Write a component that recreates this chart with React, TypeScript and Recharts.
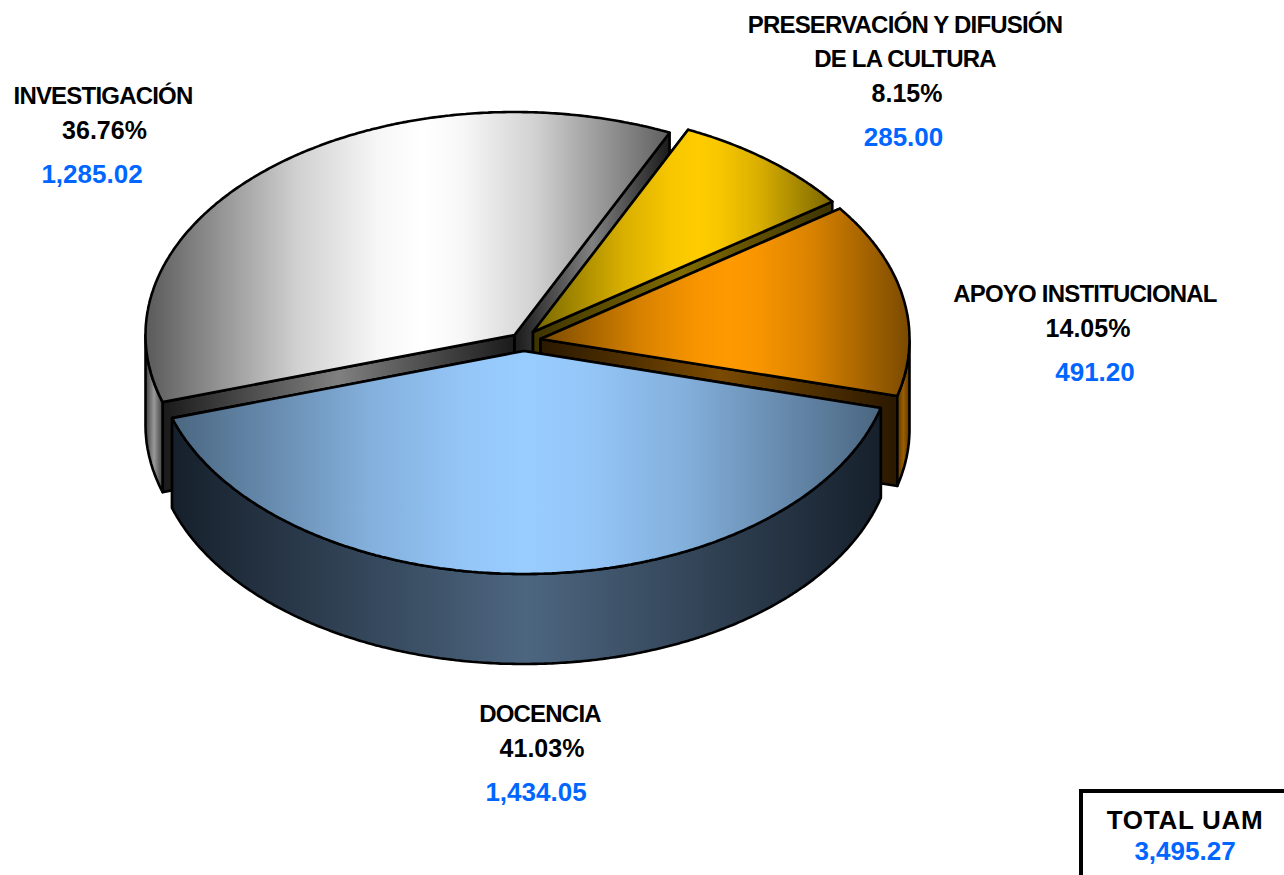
import React from "react";
import { PieChart, Pie } from "recharts";

const categories = ["INVESTIGACIÓN", "PRESERVACIÓN Y DIFUSIÓN|DE LA CULTURA", "APOYO INSTITUCIONAL", "DOCENCIA"];
const amounts = [1285.02, 285.0, 491.2, 1434.05];
const percents = ["36.76%", "8.15%", "14.05%", "41.03%"];
const totalLabel = "TOTAL UAM";
const totalAmount = 3495.27;

// styles
const explode = [[-12.5, -5], [6, -8], [13.5, -1], [-3, 11]];
const labelAnchors = [[103, 104], [905, 33], [1085, 302], [540, 722]];
const percentShift = [1.5, 2, 3, 2];
const amountShift = [-11, -1.5, 10, -4];
const topColors = [[[90, 90, 90], [255, 255, 255], [95, 95, 95], 0.53], [[118, 102, 0], [255, 204, 0], [122, 102, 0], 0.55], [[122, 74, 0], [255, 153, 0], [122, 74, 0], 0.51], [[74, 102, 128], [153, 204, 255], [74, 102, 128], 0.5]];
const sideColors = [["#404040", "#999999"], ["#4d4000", "#806b00"], ["#5a3600", "#9c5e00"], ["#16202c", "#4d6680"]];
const wallColors = [["#1a1a1a", "#808080"], ["#3d3300", "#806b00"], ["#2a1800", "#7a4a00"], ["#16202c", "#4d6680"]];

const CX = 527;
const CY = 340;
const RX = 369;
const RY = 223;
const DEPTH = 90;
const BLUE = "#0066ff";
const FONT = "'Liberation Sans', Arial, sans-serif";

const data = categories.map((name, i) => ({ name, value: amounts[i], percent: percents[i] }));
const rad = (a: number) => (a * Math.PI) / 180;
const mix = (a: number[], b: number[], t: number) =>
  `rgb(${a.map((v, i) => Math.round(v + (b[i] - v) * t)).join(",")})`;

function Grad({ id, x1, x2, stops }: { id: string; x1: number; x2: number; stops: [number, string][] }) {
  return (
    <linearGradient id={id} gradientUnits="userSpaceOnUse" x1={x1} x2={x2} y1={0} y2={0}>
      {stops.map(([o, c], i) => (
        <stop key={i} offset={o} stopColor={c} />
      ))}
    </linearGradient>
  );
}

function Slice(props: any) {
  const { cx, cy, startAngle, endAngle, outerRadius, index } = props;
  const ratio = RY / outerRadius;
  const ox = cx + explode[index][0];
  const oy = cy + explode[index][1];
  const pt = (a: number): [number, number] => [ox + outerRadius * Math.cos(rad(a)), oy - outerRadius * ratio * Math.sin(rad(a))];
  const lo = Math.min(startAngle, endAngle);
  const hi = Math.max(startAngle, endAngle);
  const arc: [number, number][] = [];
  const n = Math.ceil((hi - lo) * 2);
  for (let i = 0; i <= n; i++) arc.push(pt(hi - ((hi - lo) * i) / n));
  const first = arc[0];
  const last = arc[arc.length - 1];
  const fmt = (p: [number, number], d = 0) => `${p[0].toFixed(1)},${(p[1] + d).toFixed(1)}`;
  const topPath = `M${ox},${oy}L` + arc.map((p) => fmt(p)).join("L") + "Z";
  const low = arc.filter((p) => p[1] >= oy);
  const band = low.length
    ? "M" + low.map((p) => fmt(p)).join("L") + "L" + [...low].reverse().map((p) => fmt(p, DEPTH)).join("L") + "Z"
    : "";
  const wall = (p: [number, number]) => `M${ox},${oy}L${fmt(p)}L${fmt(p, DEPTH)}L${ox},${oy + DEPTH}Z`;
  const lowXs = (low.length ? low : arc).map((p) => p[0]);
  const xs = arc.map((p) => p[0]).concat(ox);
  const tc = topColors[index] as any[];
  const sc = sideColors[index];
  const wc = wallColors[index];
  const c0 = tc[3] as number;
  const stroke = { stroke: "#000", strokeWidth: 2.6, strokeLinejoin: "round" as const };
  const wallGrad = (id: string, p: [number, number]) => (
    <Grad id={id} x1={Math.min(ox, p[0])} x2={Math.max(ox, p[0])} stops={[[0, wc[0]], [0.5, wc[1]], [1, wc[0]]]} />
  );
  const topStops: [number, string][] = [
    [0, mix(tc[0], tc[1], 0)],
    [c0 * 0.55, mix(tc[0], tc[1], 0.72)],
    [c0 * 0.84, mix(tc[0], tc[1], 0.95)],
    [c0, mix(tc[0], tc[1], 1)],
    [c0 + (1 - c0) * 0.16, mix(tc[2], tc[1], 0.95)],
    [c0 + (1 - c0) * 0.45, mix(tc[2], tc[1], 0.72)],
    [1, mix(tc[2], tc[1], 0)],
  ];
  return (
    <g>
      <defs>
        <Grad id={`top${index}`} x1={Math.min(...xs)} x2={Math.max(...xs)} stops={topStops} />
        <Grad id={`side${index}`} x1={Math.min(...lowXs)} x2={Math.max(...lowXs)} stops={[[0, sc[0]], [0.5, sc[1]], [1, sc[0]]]} />
        {wallGrad(`wa${index}`, first)}
        {wallGrad(`wb${index}`, last)}
      </defs>
      <path d={wall(first)} fill={`url(#wa${index})`} {...stroke} />
      <path d={wall(last)} fill={`url(#wb${index})`} {...stroke} />
      {band && <path d={band} fill={`url(#side${index})`} {...stroke} />}
      <path d={topPath} fill={`url(#top${index})`} {...stroke} />
    </g>
  );
}

function SliceLabel(props: any) {
  const { index } = props;
  const d = data[index];
  const [x, y] = labelAnchors[index];
  const lines = d.name.split("|");
  const nameStyle = { fontFamily: FONT, fontWeight: 700, fontSize: 24, letterSpacing: -0.8, fill: "#000", textAnchor: "middle" as const };
  const last = y + (lines.length - 1) * 34;
  return (
    <g>
      {lines.map((t: string, i: number) => (
        <text key={i} x={x} y={y + i * 34} {...nameStyle}>{t}</text>
      ))}
      <text x={x + percentShift[index]} y={last + 35} fontFamily={FONT} fontWeight={700} fontSize={25} fill="#000" textAnchor="middle">{d.percent}</text>
      <text x={x + amountShift[index]} y={last + 78.5} fontFamily={FONT} fontWeight={700} fontSize={26} fill={BLUE} textAnchor="middle">
        {d.value.toLocaleString("en-US", { minimumFractionDigits: 2, maximumFractionDigits: 2 })}
      </text>
    </g>
  );
}

export default function App() {
  return (
    <div style={{ position: "absolute", left: 0, top: 0, width: 1284, height: 875, overflow: "hidden", background: "#fff" }}>
      <PieChart width={1284} height={875} margin={{ top: 0, right: 0, bottom: 0, left: 0 }} accessibilityLayer={false}>
        <Pie
          data={data}
          dataKey="value"
          nameKey="name"
          cx={CX}
          cy={CY}
          innerRadius={0}
          outerRadius={RX}
          startAngle={-162.5}
          endAngle={-522.5}
          shape={Slice}
          label={SliceLabel}
          labelLine={false}
          isAnimationActive={false}
        />
      </PieChart>
      <div
        style={{
          position: "absolute",
          left: 1079,
          top: 789,
          width: 240,
          height: 120,
          border: "4px solid #000",
          boxSizing: "border-box",
          background: "#fff",
        }}
      />
      <div
        style={{
          position: "absolute",
          left: 1085,
          width: 200,
          top: 805,
          textAlign: "center",
          fontFamily: FONT,
          fontWeight: 700,
        }}
      >
        <div style={{ fontSize: 26, lineHeight: "31px", color: "#000", letterSpacing: 0.7 }}>{totalLabel}</div>
        <div style={{ fontSize: 26, lineHeight: "31px", color: BLUE }}>
          {totalAmount.toLocaleString("en-US", { minimumFractionDigits: 2 })}
        </div>
      </div>
    </div>
  );
}
